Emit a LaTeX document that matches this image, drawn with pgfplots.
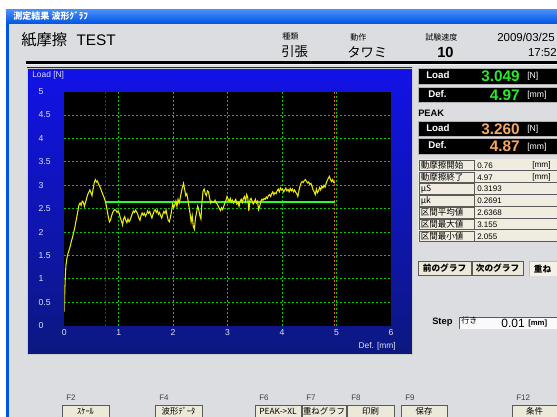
\documentclass[border=0pt]{standalone}
\usepackage{fontspec}
\setmainfont{Liberation Sans}
\newfontfamily\jp{Noto Sans CJK JP}
\usepackage{pgfplots}
\pgfplotsset{compat=1.18}
\newcommand\fs[1]{\fontsize{#1}{#1}\selectfont}
\definecolor{bg}{RGB}{220,221,224}
\definecolor{xpblue}{RGB}{0,84,227}
\definecolor{xplight}{RGB}{70,140,250}
\definecolor{panelTop}{RGB}{18,18,232}
\definecolor{panelBot}{RGB}{12,24,128}
\definecolor{gridgreen}{RGB}{0,200,0}
\definecolor{curve}{RGB}{235,235,0}
\definecolor{avg}{RGB}{40,255,40}
\definecolor{cream}{RGB}{240,237,224}
\definecolor{btn}{RGB}{236,233,216}
\definecolor{valgreen}{RGB}{40,235,40}
\definecolor{valorange}{RGB}{245,168,95}
\definecolor{ticktext}{RGB}{225,225,240}
\definecolor{cellline}{RGB}{90,90,90}
\definecolor{startred}{RGB}{175,0,0}
\definecolor{endorange}{RGB}{220,95,0}
\begin{document}
\begin{tikzpicture}
\useasboundingbox (0,0) rectangle (417.75pt,-312.75pt);
\begin{scope}[x=0.75pt,y=-0.75pt]
% window
\fill[white] (0,0) rectangle (557,417);
\fill[bg] (9,24) rectangle (557,417);
\fill[xpblue] (6,10) rectangle (9,417);
\shade[top color=xplight, bottom color=xpblue] (6,10) rectangle (557,24);
\node[anchor=west, text=white, font=\jp\bfseries\fs{6.8}, inner sep=0] at (13,16.5) {測定結果 波形ｸﾞﾗﾌ};
% header
\node[anchor=west, font=\fs{11.5}, inner sep=0] at (21,39.5) {{\jp 紙摩擦}\hspace{7pt}TEST};
\node[anchor=west, font=\jp\fs{6}, inner sep=0] at (282,37) {種類};
\node[anchor=west, font=\jp\fs{10}, inner sep=0] at (281,52) {引張};
\node[anchor=west, font=\jp\fs{6}, inner sep=0] at (350,37) {動作};
\node[anchor=west, font=\jp\fs{10}, inner sep=0] at (347,52) {タワミ};
\node[anchor=west, font=\jp\fs{6}, inner sep=0] at (425,37) {試験速度};
\node[anchor=west, font=\bfseries\fs{11}, inner sep=0] at (437,52.5) {10};
\node[anchor=west, font=\fs{8.6}, inner sep=0] at (497,37) {2009/03/25};
\node[anchor=east, font=\fs{8.6}, inner sep=0] at (557,53) {17:52};
\fill[black] (26,61.5) rectangle (557,63.8);
\fill[white!90!gray] (26,63.8) rectangle (557,64.8);
% chart panel
\shade[top color=panelTop, bottom color=panelBot] (27,68) rectangle (412,354);
\draw[gray!40, line width=0.6pt] (27,68) rectangle (412,354);
\node[anchor=west, text=ticktext, font=\fs{6.3}, inner sep=0] at (32,75) {Load [N]};
\node[anchor=east, text=ticktext, font=\fs{6.3}, inner sep=0] at (396,346) {Def. [mm]};
% right panel boxes
\fill[black] (418,68) rectangle (557,84);
\draw[gray!60] (418,68) rectangle (560,84);
\node[anchor=west, text=white, font=\bfseries\fs{7.3}, inner sep=0] at (426,75.5) {Load};
\node[anchor=east, text=valgreen, font=\bfseries\fs{11.5}, inner sep=0] at (520,76) {3.049};
\node[anchor=west, text=white, font=\fs{6.5}, inner sep=0] at (527,76.5) {[N]};
\fill[black] (418,87) rectangle (557,102);
\draw[gray!60] (418,87) rectangle (560,102);
\node[anchor=west, text=white, font=\bfseries\fs{7.3}, inner sep=0] at (428,94) {Def.};
\node[anchor=east, text=valgreen, font=\bfseries\fs{11.5}, inner sep=0] at (520,95) {4.97};
\node[anchor=west, text=white, font=\fs{6.5}, inner sep=0] at (527,95.5) {[mm]};
\node[anchor=west, font=\bfseries\fs{7}, inner sep=0] at (418,113.5) {PEAK};
\fill[black] (418,121) rectangle (557,136);
\draw[gray!60] (418,121) rectangle (560,136);
\node[anchor=west, text=white, font=\bfseries\fs{7.3}, inner sep=0] at (426,128) {Load};
\node[anchor=east, text=valorange, font=\bfseries\fs{11.5}, inner sep=0] at (520,129) {3.260};
\node[anchor=west, text=white, font=\fs{6.5}, inner sep=0] at (527,129.5) {[N]};
\fill[black] (418,138.5) rectangle (557,154);
\draw[gray!60] (418,138.5) rectangle (560,154);
\node[anchor=west, text=white, font=\bfseries\fs{7.3}, inner sep=0] at (428,145.5) {Def.};
\node[anchor=east, text=valorange, font=\bfseries\fs{11.5}, inner sep=0] at (520,146.5) {4.87};
\node[anchor=west, text=white, font=\fs{6.5}, inner sep=0] at (527,147) {[mm]};
% table
\fill[cream] (418,159.5) rectangle (557,242);
\foreach \lab/\val [count=\i from 0] in {動摩擦開始/0.76,動摩擦終了/4.97,μS/0.3193,μk/0.2691,区間平均値/2.6368,区間最大値/3.155,区間最小値/2.055}{
  \draw[cellline, line width=0.5pt] (419,{159.5+11.8*\i+0.6}) rectangle (474,{159.5+11.8*\i+11.2});
  \draw[cellline, line width=0.5pt] (475,{159.5+11.8*\i+11.2}) -- (557,{159.5+11.8*\i+11.2});
  \node[anchor=west, font=\jp\fs{6.4}, inner sep=0] at (420.5,{165.4+11.8*\i}) {\lab};
  \node[anchor=west, font=\fs{6}, inner sep=0] at (477,{165.6+11.8*\i}) {\val};
}
\node[anchor=west, font=\fs{6.2}, inner sep=0] at (532,165.6) {[mm]};
\node[anchor=west, font=\fs{6.2}, inner sep=0] at (532,177.4) {[mm]};
% buttons
\draw[fill=btn, draw=cellline] (418,261) rectangle (471,275);
\node[font=\jp\bfseries\fs{6.5}, inner sep=0] at (444.5,268) {前のグラフ};
\draw[fill=btn, draw=cellline] (472,261) rectangle (523,275);
\node[font=\jp\bfseries\fs{6.5}, inner sep=0] at (497.5,268) {次のグラフ};
\fill[btn!60!white] (529,261) rectangle (560,276);
\draw[gray!50] (529,276) -- (529,261) -- (560,261);
\node[font=\jp\bfseries\fs{6.5}, inner sep=0] at (542.5,269) {重ね};
% step
\node[anchor=west, font=\bfseries\fs{7}, inner sep=0] at (432,322) {Step};
\fill[white!85!bg] (459,317) rectangle (560,328.5);
\draw[cellline] (560,317) -- (459,317) -- (459,328.5);
\node[anchor=west, font=\jp\fs{6}, inner sep=0] at (461,320.5) {行き};
\node[anchor=east, font=\fs{9}, inner sep=0] at (525,323) {0.01};
\node[anchor=west, font=\bfseries\fs{5.8}, inner sep=0] at (528,323.5) {[mm]};
% F keys
\foreach \fk/\xa/\xb/\txt in {F2/62/109/ｽｹｰﾙ,F4/155/202/波形ﾃﾞｰﾀ,F6/255/301/PEAK->XL,F7/302/346/重ねグラフ,F8/347/394/印刷,F9/401/447/保存,F12/512/557/条件}{
  \node[anchor=west, font=\fs{6}, text=black!75, inner sep=0] at ({\xa+4},397.5) {\fk};
  \draw[fill=btn, draw=cellline] (\xa,405.5) rectangle (\xb,420);
  \node[font=\jp\fs{6.3}, inner sep=0] at ({(\xa+\xb)/2},411.5) {\txt};
}
\end{scope}
\begin{axis}[
  at={(48.2pt,-244.3pt)}, anchor=south west,
  width=245pt, height=175.6pt, scale only axis,
  xmin=0, xmax=6, ymin=0, ymax=5,
  axis background/.style={fill=black},
  axis line style={draw=none},
  major tick length=0pt,
  xtick={0,1,2,3,4,5,6},
  ytick={0,0.5,1,1.5,2,2.5,3,3.5,4,4.5,5},
  yticklabels={0,0.5,1,1.5,2,2.5,3,3.5,4,4.5,5},
  xticklabels={0,1,2,3,4,5,6},
  /pgf/number format/assume math mode=true,
  ticklabel style={font=\fs{6.5}, text=ticktext, inner sep=0pt},
  yticklabel style={anchor=west, xshift=-19.5pt},
  xticklabel style={anchor=center, yshift=-5.3pt},
  extra x ticks={1,2,3,4,5}, extra x tick labels={},
  extra y ticks={0.5,1,1.5,2,2.5,3,3.5,4,4.5}, extra y tick labels={},
  extra tick style={grid=major, major grid style={gridgreen, line width=0.75pt, dash pattern=on 1.5pt off 1.5pt}},
  clip=true,
]
\addplot[draw=startred, line width=0.9pt, dash pattern=on 1.5pt off 1.5pt] coordinates {(0.76,0) (0.76,5)};
\addplot[draw=endorange, line width=0.9pt, dash pattern=on 1.5pt off 1.5pt] coordinates {(4.97,0) (4.97,5)};
\addplot[draw=avg, line width=1.3pt] coordinates {(0.76,2.65) (4.97,2.65)};
\addplot[draw=curve, line width=0.8pt] table {
x y
0.00 0.30
0.01 0.75
0.02 1.05
0.03 1.28
0.05 1.45
0.07 1.55
0.09 1.62
0.11 1.70
0.13 1.80
0.15 1.88
0.17 1.98
0.19 2.08
0.21 2.20
0.23 2.32
0.25 2.45
0.27 2.58
0.29 2.62
0.31 2.57
0.33 2.66
0.35 2.64
0.37 2.55
0.39 2.63
0.41 2.72
0.43 2.80
0.45 2.85
0.47 2.90
0.49 2.84
0.51 2.78
0.53 2.92
0.55 3.05
0.57 3.12
0.59 3.07
0.61 3.09
0.63 3.02
0.65 2.98
0.67 2.92
0.69 2.86
0.71 2.80
0.73 2.74
0.75 2.67
0.77 2.58
0.79 2.45
0.81 2.32
0.83 2.22
0.85 2.26
0.87 2.35
0.89 2.42
0.91 2.46
0.93 2.48
0.95 2.46
0.97 2.42
0.99 2.45
1.01 2.40
1.03 2.30
1.05 2.24
1.07 2.15
1.09 2.28
1.11 2.33
1.13 2.25
1.15 2.20
1.17 2.28
1.19 2.22
1.21 2.26
1.23 2.33
1.25 2.40
1.27 2.45
1.29 2.42
1.31 2.47
1.33 2.43
1.35 2.38
1.37 2.30
1.39 2.25
1.41 2.35
1.43 2.41
1.45 2.36
1.47 2.40
1.49 2.34
1.51 2.38
1.53 2.45
1.55 2.40
1.57 2.44
1.59 2.36
1.61 2.30
1.63 2.38
1.65 2.45
1.67 2.48
1.69 2.42
1.71 2.46
1.73 2.38
1.75 2.42
1.77 2.35
1.79 2.30
1.81 2.38
1.83 2.44
1.85 2.40
1.87 2.47
1.89 2.35
1.91 2.25
1.93 2.22
1.95 2.32
1.97 2.45
1.99 2.60
2.01 2.52
2.03 2.58
2.05 2.66
2.07 2.55
2.09 2.70
2.11 2.62
2.13 2.72
2.15 2.85
2.17 2.95
2.19 3.04
2.21 2.92
2.23 2.78
2.25 2.82
2.27 2.70
2.29 2.55
2.31 2.40
2.33 2.22
2.35 2.35
2.37 2.12
2.39 2.06
2.41 2.30
2.43 2.42
2.45 2.55
2.47 2.48
2.49 2.35
2.51 2.28
2.53 2.65
2.55 2.88
2.57 2.92
2.59 2.82
2.61 2.78
2.63 2.88
2.65 2.86
2.67 2.72
2.69 2.62
2.71 2.66
2.73 2.64
2.75 2.63
2.77 2.68
2.79 2.62
2.81 2.60
2.83 2.55
2.85 2.50
2.87 2.46
2.89 2.52
2.91 2.48
2.93 2.55
2.95 2.62
2.97 2.68
2.99 2.76
3.01 2.70
3.03 2.66
3.05 2.72
3.07 2.64
3.09 2.68
3.11 2.62
3.13 2.66
3.15 2.70
3.17 2.60
3.19 2.64
3.21 2.55
3.23 2.66
3.25 2.70
3.27 2.63
3.29 2.72
3.31 2.76
3.33 2.66
3.35 2.80
3.37 2.74
3.39 2.45
3.41 2.68
3.43 2.72
3.45 2.66
3.47 2.60
3.49 2.64
3.51 2.70
3.53 2.62
3.55 2.66
3.57 2.48
3.59 2.55
3.61 2.66
3.63 2.70
3.65 2.68
3.67 2.72
3.69 2.70
3.71 2.75
3.73 2.72
3.75 2.78
3.77 2.80
3.79 2.76
3.81 2.82
3.83 2.86
3.85 2.80
3.87 2.84
3.89 2.82
3.91 2.88
3.93 2.92
3.95 2.86
3.97 2.94
3.99 2.90
4.01 2.92
4.03 2.86
4.05 2.90
4.07 2.94
4.09 2.88
4.11 2.91
4.13 2.86
4.15 2.93
4.17 2.88
4.19 2.92
4.21 2.86
4.23 2.90
4.25 2.85
4.27 2.82
4.29 2.76
4.31 2.88
4.33 2.98
4.35 3.05
4.37 3.08
4.39 3.06
4.41 3.10
4.43 3.12
4.45 3.08
4.47 3.05
4.49 3.07
4.51 3.02
4.53 3.04
4.55 2.98
4.57 2.90
4.59 2.86
4.61 2.80
4.63 2.92
4.65 2.84
4.67 2.88
4.69 2.95
4.71 2.90
4.73 2.98
4.75 2.94
4.77 3.00
4.79 2.96
4.81 3.04
4.83 3.10
4.85 3.15
4.87 3.19
4.89 3.12
4.91 3.08
4.93 3.12
4.95 3.06
4.97 3.05
};
\end{axis}
\end{tikzpicture}
\end{document}
